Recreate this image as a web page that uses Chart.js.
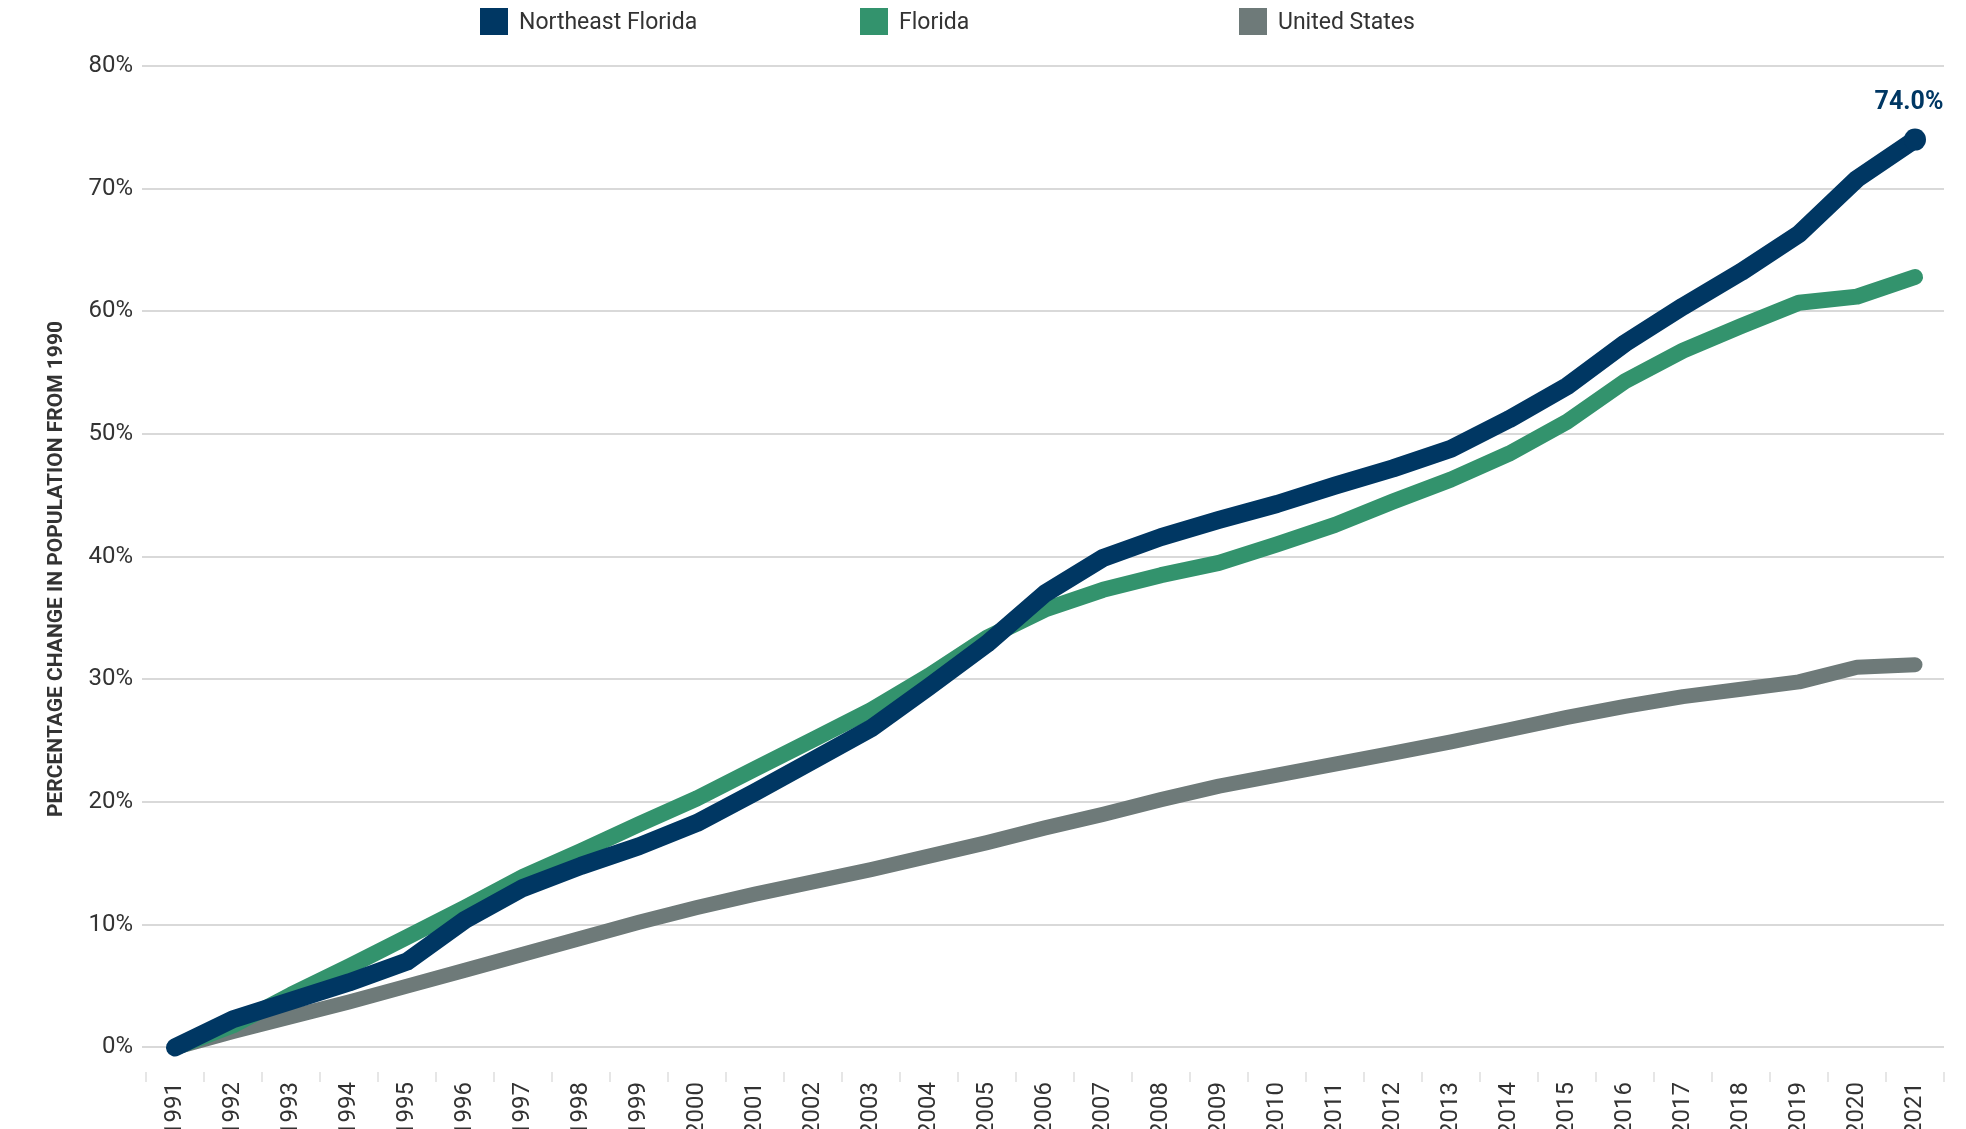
<!DOCTYPE html>
<html>
<head>
<meta charset="utf-8">
<script src="https://cdn.jsdelivr.net/npm/chart.js@4/dist/chart.umd.min.js"></script>
<style>
  html, body { margin: 0; padding: 0; background: #fff; }
  #wrap { position: relative; width: 1966px; height: 1129px; }
  .lg { position: absolute; top: 8px; display: flex; align-items: center; font: 23px Roboto, sans-serif; color: #333; white-space: nowrap; }
  .lg .box { width: 28px; height: 27px; margin-right: 11px; }
</style>
</head>
<body>
<div id="wrap">
  <canvas id="chartPop" width="1966" height="1129"></canvas>
  <div id="legend"></div>
</div>
<script>
// datos (% de cambio desde 1990)
const years = ['1991','1992','1993','1994','1995','1996','1997','1998','1999','2000',
  '2001','2002','2003','2004','2005','2006','2007','2008','2009','2010',
  '2011','2012','2013','2014','2015','2016','2017','2018','2019','2020','2021'];

const neFlorida = [0, 2.3, 3.8, 5.3, 7.0, 10.4, 13.0, 14.8, 16.4, 18.3,
  20.8, 23.4, 26.0, 29.4, 32.9, 37.0, 39.9, 41.6, 43.0, 44.3,
  45.8, 47.2, 48.8, 51.2, 53.9, 57.4, 60.4, 63.2, 66.3, 70.8, 74.0];

const florida = [0, 1.8, 4.3, 6.6, 9.0, 11.4, 13.9, 16.0, 18.2, 20.3,
  22.7, 25.1, 27.5, 30.3, 33.4, 35.7, 37.3, 38.5, 39.5, 41.0,
  42.6, 44.5, 46.3, 48.4, 51.0, 54.3, 56.8, 58.8, 60.7, 61.2, 62.8];

const unitedStates = [0, 1.3, 2.5, 3.7, 5.0, 6.3, 7.6, 8.9, 10.2, 11.4,
  12.5, 13.5, 14.5, 15.6, 16.7, 17.9, 19.0, 20.2, 21.3, 22.2,
  23.1, 24.0, 24.9, 25.9, 26.9, 27.8, 28.6, 29.2, 29.8, 31.0, 31.2];

const yTicks = [0, 10, 20, 30, 40, 50, 60, 70, 80];

const seriesNames = ['Northeast Florida', 'Florida', 'United States'];
const seriesColors = ['#003763', '#33936d', '#6e7a79'];

// leyenda en HTML (espaciado fijo como en el original)
const legendX = [480, 860, 1239];
const legendEl = document.getElementById('legend');
seriesNames.forEach((name, i) => {
  const d = document.createElement('div');
  d.className = 'lg';
  d.style.left = legendX[i] + 'px';
  d.innerHTML = '<span class="box" style="background:' + seriesColors[i] + '"></span>' + name;
  legendEl.appendChild(d);
});

// etiqueta del último valor
const endLabel = {
  id: 'endLabel',
  afterDatasetsDraw(chart) {
    const meta = chart.getDatasetMeta(0);
    const pt = meta.data[meta.data.length - 1];
    const ctx = chart.ctx;
    ctx.save();
    ctx.font = 'bold 25px "Liberation Sans Narrow", Roboto, sans-serif';
    ctx.fillStyle = seriesColors[0];
    ctx.textAlign = 'center';
    ctx.textBaseline = 'middle';
    ctx.fillText(neFlorida[neFlorida.length - 1].toFixed(1) + '%', pt.x - 6, pt.y - 37);
    ctx.restore();
  }
};

const lastIdx = years.length - 1;
const mkSet = (i, data, width) => ({
  label: seriesNames[i],
  data: data,
  borderColor: seriesColors[i],
  backgroundColor: seriesColors[i],
  borderWidth: width,
  borderCapStyle: 'round',
  borderJoinStyle: 'round',
  tension: 0,
  fill: false,
  pointBorderWidth: 0,
  pointRadius: i === 0 ? (c) => (c.dataIndex === lastIdx ? 11 : 0) : 0,
  pointHoverRadius: 0
});

const ctx = document.getElementById('chartPop').getContext('2d');
new Chart(ctx, {
  type: 'line',
  data: {
    labels: years,
    datasets: [
      mkSet(0, neFlorida, 18),
      mkSet(1, florida, 16),
      mkSet(2, unitedStates, 15)
    ]
  },
  plugins: [endLabel],
  options: {
    responsive: false,
    animation: false,
    layout: { padding: { top: 66, right: 22, left: 0, bottom: 0 } },
    plugins: {
      legend: { display: false },
      tooltip: { enabled: false }
    },
    scales: {
      x: {
        offset: true,
        border: { display: false },
        grid: { offset: true, drawOnChartArea: false, tickLength: 10, color: '#e6e6e6', lineWidth: 2 },
        ticks: { minRotation: 90, maxRotation: 90, autoSkip: false, padding: 0, color: '#333',
          font: { family: 'Roboto', size: 24 } },
        afterFit: (s) => { s.height = 57; }
      },
      y: {
        min: -2,
        max: 80,
        border: { display: false },
        afterBuildTicks: (s) => { s.ticks = yTicks.map(v => ({ value: v })); },
        grid: { color: '#d9d9d9', lineWidth: 2, tickLength: 4 },
        ticks: { padding: 9, color: '#333', font: { family: 'Roboto', size: 24 },
          callback: (v) => v + '%' },
        title: {
          display: true,
          text: 'PERCENTAGE CHANGE IN POPULATION FROM 1990',
          color: '#333',
          font: { family: '"Liberation Sans Narrow", Roboto, sans-serif', size: 21, weight: 'bold' },
          padding: { top: 44, bottom: 0 }
        },
        afterFit: (s) => { s.width = 146; }
      }
    }
  }
});
</script>
</body>
</html>
